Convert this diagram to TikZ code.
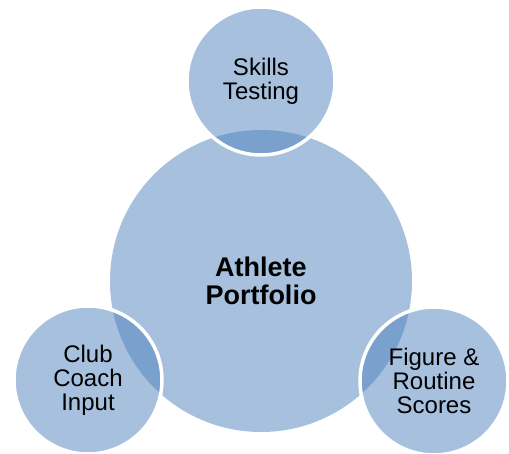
\documentclass[tikz,border=0pt]{standalone}
\usepackage{fontspec}
\setmainfont{Liberation Sans}
\definecolor{accentblue}{RGB}{79,129,189}
\begin{document}
\begin{tikzpicture}[x=1pt,y=1pt,
  bubble/.style={circle, inner sep=0pt, outer sep=0pt, fill=accentblue, fill opacity=0.5, text opacity=1, align=center, text=black},
  bigbubble/.style={bubble, minimum size=302pt, font=\fontsize{27}{28}\selectfont\bfseries},
  smallbubble/.style={bubble, minimum size=148pt, draw=white, draw opacity=1, line width=3.5pt, font=\fontsize{24}{24}\selectfont}]
\useasboundingbox (0,0) rectangle (509,453);
\node[bigbubble] (hub) at (261,172) {Athlete\\Portfolio};
\node[smallbubble] (skills) at (261,372) {Skills\\Testing};
\node[smallbubble] (coach) at (88,73) {Club\\Coach\\Input};
\node[smallbubble] (scores) at (434,72) {Figure \&\\Routine\\Scores};
\end{tikzpicture}
\end{document}
